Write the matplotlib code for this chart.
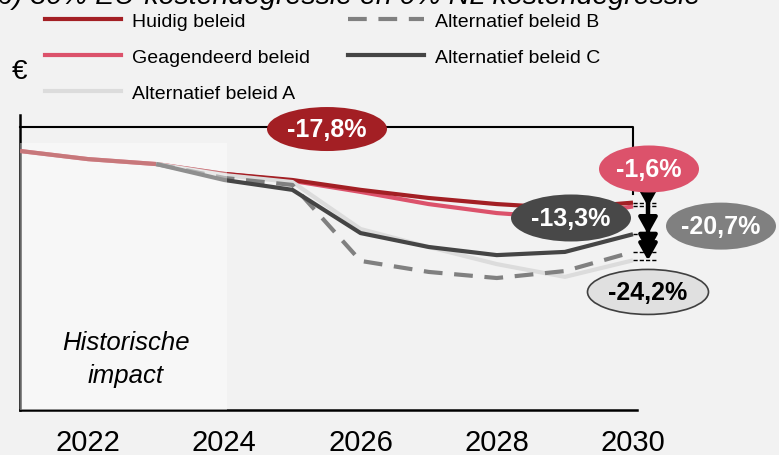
import numpy as np
import matplotlib.pyplot as plt
from matplotlib.patches import Ellipse, Rectangle
from matplotlib.lines import Line2D

plt.rcParams['font.family'] = ['Liberation Sans', 'DejaVu Sans']

# kosten-index per jaar (2021 = 100)
years = np.arange(2021, 2031)
huidig = [100.0, 97.2, 95.5, 92.1, 90.0, 86.6, 83.8, 81.7, 80.3, 82.2]
geagendeerd = [100.0, 97.2, 95.5, 92.1, 89.7, 85.9, 81.7, 78.6, 76.9, 80.9]
alt_a = [np.nan, np.nan, 95.5, 91.7, 89.3, 73.1, 66.9, 61.0, 56.6, 62.3]
alt_b = [np.nan, np.nan, 95.5, 90.7, 88.3, 62.1, 58.3, 56.2, 58.6, 65.2]
alt_c = [np.nan, np.nan, 95.5, 90.0, 86.6, 71.7, 66.9, 64.1, 65.2, 71.3]

labels = ['Huidig beleid', 'Geagendeerd beleid', 'Alternatief beleid A',
          'Alternatief beleid B', 'Alternatief beleid C']
xticks = [2022, 2024, 2026, 2028, 2030]
historie_tot = 2024.04

c_red = '#a31f24'
c_pink = '#dc526b'
c_a = '#dcdcdc'
c_b = '#808080'
c_c = '#454545'
bg = '#f2f2f2'

fig = plt.figure(figsize=(7.79, 4.56), dpi=100, facecolor=bg)
W, H = 779, 456
ax = fig.add_axes([20 / W, 45 / H, 617 / W, 295 / H], facecolor=bg)

px_x = 613 / 9.0     # pixels per jaar
px_y = 2.9           # pixels per indexpunt
ax.set_xlim(2021, 2030 + 4 / px_x)
ax.set_ylim(100 - 259 / px_y, 100 + 36 / px_y)

lw = 3
ax.plot(years, geagendeerd, color=c_pink, lw=lw, zorder=2, solid_capstyle='butt')
ax.plot(years, huidig, color=c_red, lw=lw, zorder=3, solid_capstyle='butt')
ax.plot(years, alt_a, color=c_a, lw=lw, zorder=4, solid_capstyle='butt')
ax.plot(years, alt_b, color=c_b, lw=lw, zorder=5, ls=(0, (4.5, 2.8)))
ax.plot(years, alt_c, color=c_c, lw=lw, zorder=6, solid_capstyle='butt')

# historische periode licht afdekken
y0 = ax.get_ylim()[0]
ax.add_patch(Rectangle((2021, y0), historie_tot - 2021, 102.8 - y0,
                       facecolor='white', edgecolor='none', alpha=0.4, zorder=7))
ax.text(2022.55, 28.5, 'Historische\nimpact', ha='center', va='center',
        fontsize=18.5, style='italic', linespacing=1.45, zorder=8)

for s in ['top', 'right']:
    ax.spines[s].set_visible(False)
for s in ['left', 'bottom']:
    ax.spines[s].set_linewidth(1.8)
ax.set_yticks([])
ax.set_xticks(xticks)
ax.tick_params(axis='x', length=0, labelsize=21, pad=13)

# bracket over de hele periode
top_y = 100 + 24 / px_y
end = huidig[-1]
ax.plot([2021, 2030, 2030], [top_y, top_y, end + 3], color='black', lw=1.5,
        clip_on=False, zorder=9)


def bubble(x, y, w, h, text, fc, tc='white', ec='none'):
    ax.add_patch(Ellipse((x, y), w / px_x, h / px_y, facecolor=fc, edgecolor=ec,
                         lw=1.2, clip_on=False, zorder=12))
    ax.text(x, y, text, ha='center', va='center', color=tc, fontsize=18,
            fontweight='bold', zorder=13, clip_on=False)


start = huidig[0]
pct = lambda v: '{:+.1f}%'.format((v / end - 1) * 100).replace('.', ',').replace('+', '')

# pijlen vanaf huidig beleid naar de alternatieven
xa = 2030 + 15 / px_x
ends = [geagendeerd[-1], alt_c[-1], alt_b[-1], alt_a[-1]]
for v in [end] + ends:
    ax.plot([2030, 2030 + 24 / px_x], [v, v], color='black', lw=1,
            ls=(0, (3, 1.5)), clip_on=False, zorder=9)
for v in ends:
    ax.annotate('', xy=(xa, v), xytext=(xa, end + 4), zorder=10,
                annotation_clip=False,
                arrowprops=dict(arrowstyle='-|>,head_length=0.5,head_width=0.28',
                                lw=3, color='black', mutation_scale=20,
                                shrinkA=0, shrinkB=0))

bubble(2021 + 307 / px_x, top_y - 0.7,
       120, 44, '{:.1f}%'.format((end / start - 1) * 100).replace('.', ','), c_red)
bubble(2030 + 16 / px_x, end + 11.6, 100, 47, pct(geagendeerd[-1]), c_pink)
bubble(2030 - 62 / px_x, alt_c[-1] + 5.6, 120, 47, pct(alt_c[-1]), '#484848')
bubble(2030 + 88 / px_x, alt_b[-1] + 8.9, 110, 47, pct(alt_b[-1]), c_b)
bubble(2030 + 15 / px_x, alt_a[-1] - 10.9, 121, 45, pct(alt_a[-1]), '#e0e0e0',
       tc='black', ec='#404040')

fig.text(12 / W, 1 - 72 / H, '€', fontsize=20, va='center')
fig.text(-0.004, 1 - 4 / H, 'b) 30% EU-kostendegressie en 0% NL kostendegressie',
         fontsize=20.5, style='italic', va='baseline')

handles = [
    Line2D([], [], color=c_red, lw=lw),
    Line2D([], [], color=c_pink, lw=lw),
    Line2D([], [], color=c_a, lw=lw),
    Line2D([], [], color=c_b, lw=lw, ls=(0, (4.5, 2.8))),
    Line2D([], [], color=c_c, lw=lw),
]
fig.legend(handles, labels, loc='upper left', bbox_to_anchor=(45 / W, 1 - 13 / H),
           ncol=2, frameon=False, fontsize=14, handlelength=3.9,
           handletextpad=0.55, columnspacing=2.0, labelspacing=0.95,
           borderpad=0, borderaxespad=0)

fig.savefig('out.png', dpi=100, facecolor=bg)
